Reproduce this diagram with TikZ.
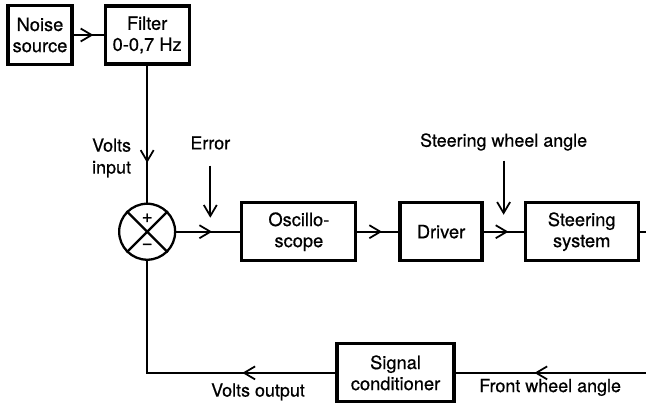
\documentclass[tikz,border=0pt]{standalone}
\usepackage{fontspec}
\setmainfont{TeX Gyre Heros}
\newfontfamily\dgfont[FakeBold=0.6]{TeX Gyre Heros}
\usepackage{tikz}
\usetikzlibrary{positioning,arrows.meta,decorations.markings}

\begin{document}
\begin{tikzpicture}[
node distance=6mm,
blk/.style={rectangle,draw,line width=1.8pt,minimum height=11.6mm,inner sep=0.5mm,align=center,font=\dgfont\fontsize{10.4}{12}\selectfont},
lbl/.style={align=center,inner sep=1pt,font=\dgfont\fontsize{10.2}{12.5}\selectfont},
sumpt/.style={circle,draw,line width=1.3pt,minimum size=11.2mm,inner sep=0pt},
wire/.style={line width=1pt},
midarrow/.style={wire,postaction={decorate},decoration={markings,mark=at position #1 with {\arrow{Straight Barb[length=2.2mm,width=2.6mm]}}}},
arrow/.style={wire,-{Straight Barb[length=2.2mm,width=2.6mm]}}
]
\useasboundingbox (0,0) rectangle (12.92,-8.08);
\clip (0,0) rectangle (12.92,-8.08);
\node[blk,minimum width=12.8mm,minimum height=11.8mm] (noise) at (0.8,-0.7) {Noise\\source};
\node[blk,minimum width=16.8mm,right=of noise] (filt) {Filter\\0-0,7 Hz};
\node[sumpt,below=27.4mm of filt] (sum) {};
\node[blk,minimum width=22.8mm,right=12.8mm of sum] (osc) {Oscillo-\\scope};
\node[blk,minimum width=16.4mm,right=8.2mm of osc] (drv) {Driver};
\node[blk,minimum width=22.6mm,right=8mm of drv] (steer) {Steering\\system};
\node[blk,minimum width=23.4mm,below=16mm of drv,xshift=-9.1mm] (cond) {Signal\\conditioner};
\draw[line width=1.3pt] (sum.north east)--(sum.south west) (sum.north west)--(sum.south east);
\node[font=\dgfont\fontsize{10.5}{10}\selectfont,inner sep=0pt] (plus) at ([yshift=-3.1mm]sum.north) {+};
\node[font=\dgfont\fontsize{10.5}{10}\selectfont,inner sep=0pt] (minus) at ([yshift=2.9mm]sum.south) {−};
\coordinate[above right=2.8mm and 6.8mm of sum.east] (etip);
\coordinate[above left=3.4mm and 4mm of steer.west] (swtip);
\node[lbl,above left=4.6mm and 2.8mm of sum.north] (vin) {Volts\\input};
\node[lbl,above=13.2mm of etip] (err) {Error};
\node[lbl,above=12.4mm of swtip] (swa) {Steering wheel angle};
\node[lbl,below left=1.7mm and 5.7mm of cond.west] (vout) {Volts output};
\node[lbl,below right=0.8mm and 4.3mm of cond.east] (fwa) {Front wheel angle};
\draw[midarrow=0.66] (noise)--(filt);
\draw[midarrow=0.71] (filt)--(sum);
\draw[midarrow=0.56] (sum)--(osc);
\draw[midarrow=0.6] (osc)--(drv);
\draw[midarrow=0.62] (drv)--(steer);
\draw[midarrow=0.79] (steer.east)--++(5mm,0) coordinate (rt) |- (cond.east);
\draw[midarrow=0.31] (cond.west) -| (sum.south);
\draw[arrow,shorten <=2.8mm] (err)--(etip);
\draw[arrow,shorten <=1.6mm] (swa)--(swtip);
\end{tikzpicture}
\end{document}
